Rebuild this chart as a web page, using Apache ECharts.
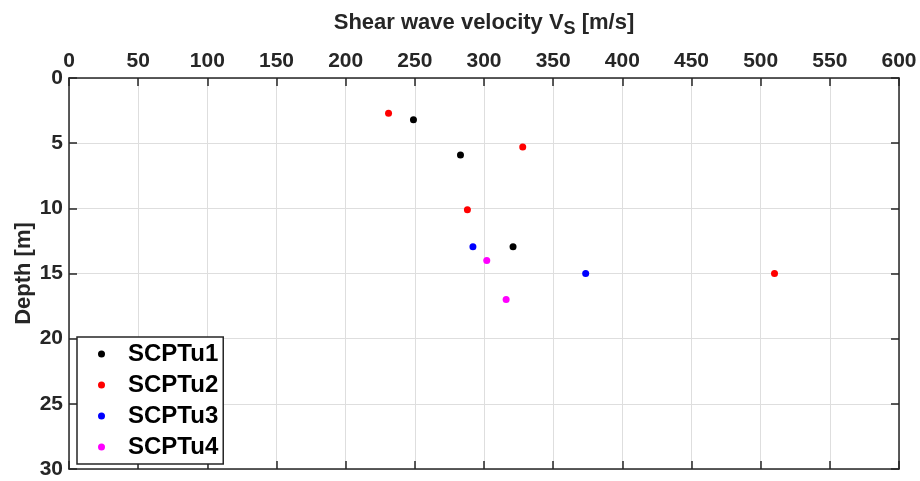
<!DOCTYPE html>
<html><head><meta charset="utf-8">
<script src="https://cdn.jsdelivr.net/npm/echarts@6/dist/echarts.min.js"></script>
<style>html,body{margin:0;padding:0;background:#fff}#c{width:920px;height:481px}</style>
</head><body><div id="c"></div>
<script>
const seriesNames = ['SCPTu1','SCPTu2','SCPTu3','SCPTu4'];
const seriesColors = ['#000000','#ff0000','#0000ff','#ff00ff'];
const scptu1 = [[249,3.2],[283,5.9],[321,12.95]];
const scptu2 = [[231,2.7],[328,5.3],[288,10.1],[510,15.0]];
const scptu3 = [[292,12.95],[373.5,15.0]];
const scptu4 = [[302,14.0],[316,17.0]];
const seriesData = [scptu1, scptu2, scptu3, scptu4];
const xTicks = {min:0, max:600, interval:50};
const yTicks = {min:0, max:30, interval:5};

const txt = '#262626';
const font = 'Liberation Sans, Arial, sans-serif';
const chart = echarts.init(document.getElementById('c'));
const gridLine = {show:true, lineStyle:{color:'#dedede', width:1}};
const axLine = {show:true, onZero:false, lineStyle:{color:txt, width:1.5}};
const tick = {show:true, inside:true, length:8, lineStyle:{color:txt, width:1.5}};
chart.setOption({
  animation:false,
  backgroundColor:'#fff',
  grid:{left:69, right:21, top:78, bottom:12, containLabel:false, outerBoundsMode:'none'},
  xAxis:[{
    type:'value', position:'top', min:xTicks.min, max:xTicks.max, interval:xTicks.interval,
    name:'Shear wave velocity V{sub|S} [m/s]', nameLocation:'middle', nameGap:40,
    nameTextStyle:{color:txt, fontSize:22, fontWeight:'bold', fontFamily:font,
      rich:{sub:{fontSize:18, fontWeight:'bold', color:txt, fontFamily:font, padding:[12,0,0,0]}}},
    axisLine:axLine, axisTick:tick,
    axisLabel:{color:txt, fontSize:21, fontWeight:'bold', fontFamily:font, margin:6},
    splitLine:gridLine
  },{
    type:'value', position:'bottom', min:xTicks.min, max:xTicks.max, interval:xTicks.interval,
    axisLine:axLine, axisTick:tick,
    axisLabel:{show:false}, splitLine:{show:false}
  }],
  yAxis:[{
    type:'value', inverse:true, min:yTicks.min, max:yTicks.max, interval:yTicks.interval,
    name:'Depth [m]', nameLocation:'middle', nameGap:34, nameRotate:90, nameMoveOverlap:false,
    nameTextStyle:{color:txt, fontSize:22, fontWeight:'bold', fontFamily:font},
    axisLine:axLine, axisTick:tick,
    axisLabel:{color:txt, fontSize:21, fontWeight:'bold', fontFamily:font, margin:6},
    splitLine:gridLine
  },{
    type:'value', inverse:true, position:'right', min:yTicks.min, max:yTicks.max, interval:yTicks.interval,
    axisLine:axLine, axisTick:tick,
    axisLabel:{show:false}, splitLine:{show:false}
  }],
  legend:{
    orient:'vertical', left:77, top:337,
    data:seriesNames.map(n=>({name:n, icon:'circle'})),
    itemWidth:25, itemHeight:7, itemGap:5,
    padding:[4,5,4,21],
    backgroundColor:'#fff', borderColor:txt, borderWidth:1.5,
    textStyle:{color:'#000', fontSize:24, fontWeight:'bold', fontFamily:font, lineHeight:26, padding:[0,0,0,9]}
  },
  series:seriesNames.map((n,i)=>({
    name:n, type:'scatter', xAxisIndex:0, yAxisIndex:0,
    data:seriesData[i], symbol:'circle', symbolSize:7,
    itemStyle:{color:seriesColors[i], opacity:1}
  }))
});
</script></body></html>
